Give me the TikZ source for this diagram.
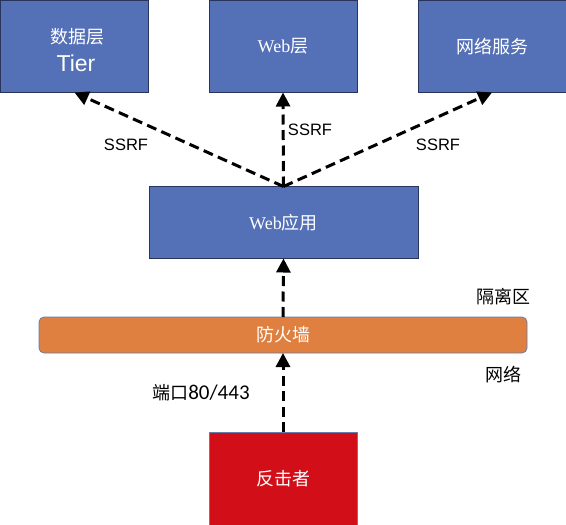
\documentclass[tikz,border=0pt]{standalone}
\usepackage{fontspec}
\setmainfont{Liberation Serif}
\setsansfont{Liberation Sans}
\newfontfamily\cjk{Noto Sans CJK SC}
\newfontfamily\numfont{Carlito}
\usetikzlibrary{arrows.meta}
\definecolor{boxblue}{RGB}{84,112,183}
\definecolor{boxedge}{RGB}{40,52,90}
\definecolor{fworange}{RGB}{224,128,64}
\definecolor{fwedge}{RGB}{100,125,170}
\definecolor{atkred}{RGB}{210,14,24}
\begin{document}
\begin{tikzpicture}[x=1pt,y=-1pt,
  bluebox/.style={draw=boxedge,line width=0.8pt,fill=boxblue,text=white,inner sep=0pt,outer sep=0pt,font=\fontsize{18}{26}\selectfont},
  fwbox/.style={draw=fwedge,line width=0.8pt,fill=fworange,text=white,rounded corners=5pt,inner sep=0pt,outer sep=0pt,font=\cjk\fontsize{18}{22}\selectfont},
  atkbox/.style={draw=fwedge,line width=0.8pt,fill=atkred,text=white,inner sep=0pt,outer sep=0pt,font=\cjk\fontsize{18}{22}\selectfont},
  dasharrow/.style={line width=3pt,dash pattern=on 10pt off 5.5pt,-{Triangle[width=14pt,length=14pt]}},
  lbl/.style={inner sep=0pt,font=\sffamily\fontsize{16.5}{20}\selectfont},
  cjklbl/.style={inner sep=0pt,font=\cjk\fontsize{18}{22}\selectfont}]
\useasboundingbox (0,0) rectangle (566,525);
\fill[white] (0,0) rectangle (566,525);
% boxes
\node[bluebox,minimum width=148pt,minimum height=92pt] (data) at (74.5,46.5) {};
\node[inner sep=0pt,text=white,font=\cjk\fontsize{18}{22}\selectfont] (datat1) at (77,37) {数据层};
\node[inner sep=0pt,text=white,font=\sffamily\fontsize{23}{26}\selectfont] (datat2) at (76,63) {Tier};
\node[bluebox,minimum width=148pt,minimum height=92pt] (web) at (283,46.5) {Web{\cjk 层}};
\node[bluebox,minimum width=148pt,minimum height=92pt] (svc) at (492,46.5) {\cjk 网络服务};
\node[bluebox,minimum width=269pt,minimum height=72pt] (app) at (283.5,222.5) {Web{\cjk 应用}};
\node[fwbox,minimum width=488pt,minimum height=36pt] (fw) at (283,335) {防火墙};
\node[atkbox,minimum width=148pt,minimum height=93pt] (atk) at (283,478.5) {反击者};
% arrows
\draw[dasharrow] (app.north) -- (data.south);
\draw[dasharrow] (app.north) -- (web.south);
\draw[dasharrow] (app.north) -- (svc.south);
\draw[dasharrow] (atk.north) -- (fw.south);
\draw[dasharrow] (fw.north) -- (app.south);
% labels
\node[lbl] (s1) at (126,145) {SSRF};
\node[lbl] (s2) at (310,130) {SSRF};
\node[lbl] (s3) at (438,145) {SSRF};
\node[cjklbl] (dmz) at (503,297) {隔离区};
\node[cjklbl] (net) at (503,375) {网络};
\node[inner sep=0pt] (port) at (201,393) {{\cjk\fontsize{18}{22}\selectfont 端口}{\numfont\fontsize{21}{22}\selectfont 80/443}};
\end{tikzpicture}
\end{document}
